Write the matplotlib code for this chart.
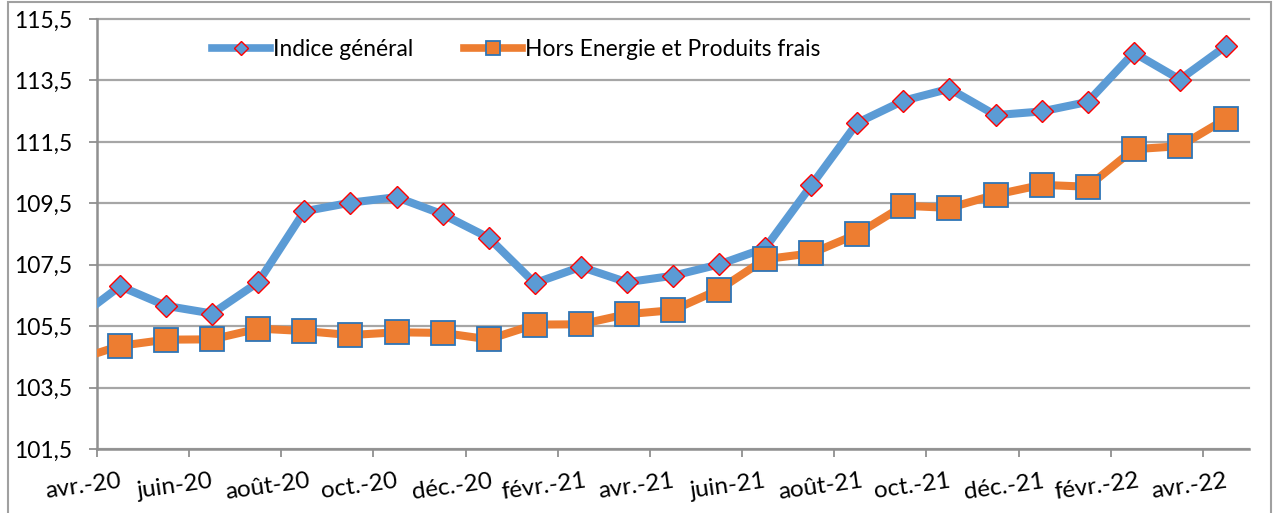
import matplotlib
matplotlib.use("Agg")
import matplotlib.pyplot as plt
import matplotlib.transforms as mtransforms
from matplotlib.patches import Rectangle
import numpy as np

plt.rcParams['font.family'] = ['Lato', 'DejaVu Sans']

# Monthly data, mars-20 (partly clipped) .. avr.-22
months = ["mars-20", "avr.-20", "mai-20", "juin-20", "juil.-20", "août-20", "sept.-20",
          "oct.-20", "nov.-20", "déc.-20", "janv.-21", "févr.-21", "mars-21", "avr.-21",
          "mai-21", "juin-21", "juil.-21", "août-21", "sept.-21", "oct.-21", "nov.-21",
          "déc.-21", "janv.-22", "févr.-22", "mars-22", "avr.-22"]
indice_general = [105.67, 106.80, 106.16, 105.91, 106.93, 109.24, 109.52, 109.70, 109.14,
                  108.38, 106.90, 107.43, 106.93, 107.14, 107.51, 108.04, 110.08, 112.12,
                  112.84, 113.23, 112.37, 112.49, 112.80, 114.40, 113.53, 114.62]
hors_energie = [104.38, 104.86, 105.06, 105.07, 105.42, 105.34, 105.21, 105.30, 105.28,
                105.07, 105.55, 105.56, 105.89, 106.02, 106.69, 107.68, 107.87, 108.50,
                109.42, 109.35, 109.78, 110.10, 110.04, 111.26, 111.36, 112.25]
xtick_labels = ["avr.-20", "juin-20", "août-20", "oct.-20", "déc.-20", "févr.-21", "avr.-21",
                "juin-21", "août-21", "oct.-21", "déc.-21", "févr.-22", "avr.-22"]
ytick_values = [101.5, 103.5, 105.5, 107.5, 109.5, 111.5, 113.5, 115.5]
ytick_labels = ["101,5", "103,5", "105,5", "107,5", "109,5", "111,5", "113,5", "115,5"]

BLUE = "#5B9BD5"
ORANGE = "#ED7D31"
GRID = "#a6a6a6"

fig = plt.figure(figsize=(12.73, 5.13), dpi=100)
ax = fig.add_axes([97/1273, 1 - 449/513, (1249-97)/1273, (449-19)/513])

# month positions: tick at start of month (avr.-20 = 0), data at mid-month
x = np.arange(len(months)) - 1 + 0.5

ax.plot(x, indice_general, color=BLUE, lw=5.8, marker='D', markersize=11.7,
        markerfacecolor=BLUE, markeredgecolor='#FF0000', markeredgewidth=1.0,
        label="Indice général", zorder=3, solid_joinstyle='round')
ax.plot(x, hors_energie, color=ORANGE, lw=5.8, marker='s', markersize=17,
        markerfacecolor=ORANGE, markeredgecolor='#2E75B6', markeredgewidth=1.3,
        label="Hors Energie et Produits frais", zorder=4, solid_joinstyle='round')

ax.set_xlim(0, 25)
ax.set_ylim(101.5, 115.5)
ax.set_xticks(np.arange(0, 25, 2))
ax.set_xticklabels(xtick_labels, rotation=8, ha='center', fontsize=17.5)
ax.set_yticks(ytick_values)
ax.set_yticklabels(ytick_labels, fontsize=16.5)

ax.grid(axis='y', color=GRID, lw=1.6, zorder=0)
for g in ax.get_ygridlines():
    g.set_clip_on(False)
ax.set_axisbelow(True)
for s in ['top', 'right']:
    ax.spines[s].set_visible(False)
for s in ['left', 'bottom']:
    ax.spines[s].set_color('#909090')
    ax.spines[s].set_linewidth(1.8)
ax.tick_params(axis='y', length=6, width=1.3, color='#909090', pad=12)
ax.tick_params(axis='x', length=5.5, width=1.3, color='#909090', pad=10)

offset = mtransforms.ScaledTranslation(-14/100, 0, fig.dpi_scale_trans)
for lab in ax.get_xticklabels():
    lab.set_transform(lab.get_transform() + offset)

leg = ax.legend(loc='center', bbox_to_anchor=(0.364, 0.930), ncol=2, frameon=False,
                fontsize=16.4, numpoints=1, handlelength=2.55,
                handletextpad=0.13, columnspacing=2.2, borderaxespad=0, borderpad=0)
hs = leg.legend_handles
hs[0].set_markersize(7.5)
hs[0].set_linewidth(5.5)
hs[1].set_markersize(10.5)
hs[1].set_linewidth(5.5)

fig.patches.append(Rectangle((8/1273, -0.05), (1271-8)/1273, 1.05 - 2/513,
                             transform=fig.transFigure, fill=False,
                             edgecolor='#a0a0a0', lw=1.5))

fig.savefig("out.png", dpi=100)
